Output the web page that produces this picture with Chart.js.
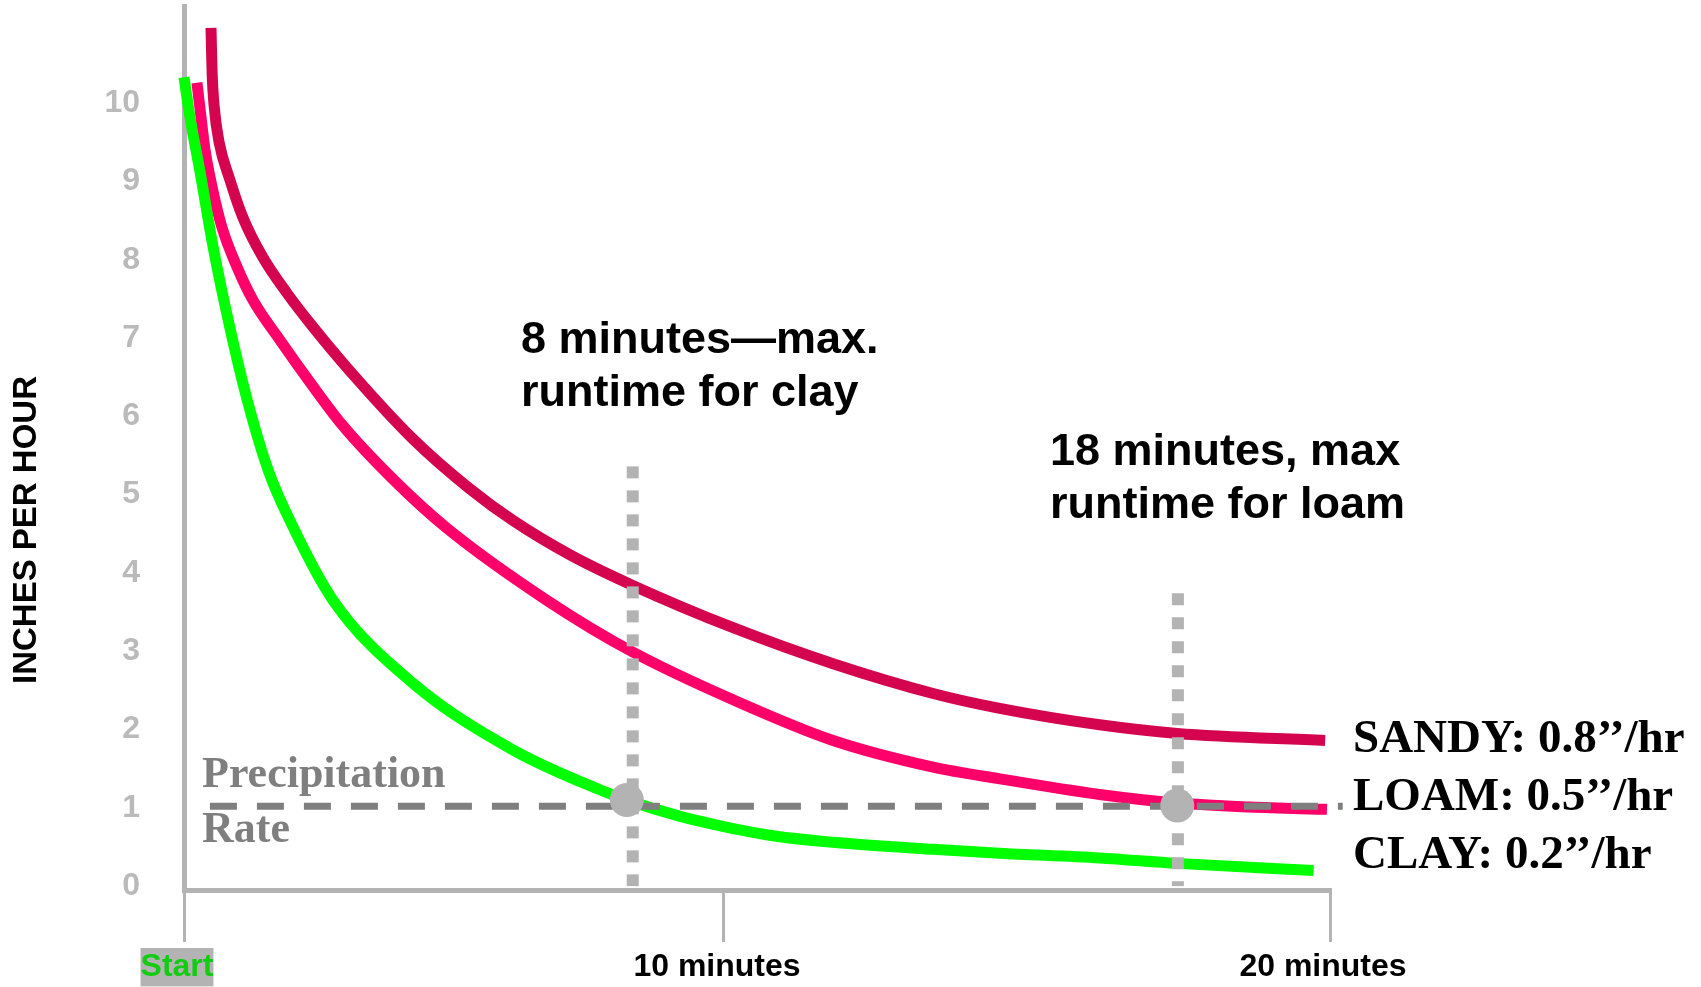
<!DOCTYPE html>
<html>
<head>
<meta charset="utf-8">
<title>Infiltration rate by soil type</title>
<script src="https://cdn.jsdelivr.net/npm/chart.js@4.4.0/dist/chart.umd.min.js"></script>
<style>
    html, body { margin: 0; padding: 0; background: #fff; }
    #wrap { width: 1701px; height: 987px; position: relative; }
</style>
</head>
<body>
<div id="wrap"><canvas id="chart"></canvas></div>
<script>
// minutes on x, inches per hour on y
const sandyMinutes = [0.50, 0.52, 0.56, 0.65, 0.85, 1.09, 1.46, 1.91, 2.39, 3.07, 4.24, 5.30, 6.09, 7.15, 8.31, 10.15, 11.80, 13.45, 14.55, 16.20, 17.48, 19.92];
const sandyRate    = [10.96, 10.40, 9.95, 9.50, 9.02, 8.54, 8.03, 7.57, 7.14, 6.58, 5.71, 5.07, 4.67, 4.23, 3.84, 3.30, 2.84, 2.46, 2.27, 2.06, 1.95, 1.86];

const loamMinutes = [0.24, 0.30, 0.39, 0.52, 0.70, 0.98, 1.28, 1.78, 2.37, 2.93, 3.91, 4.87, 6.72, 8.31, 10.15, 11.80, 13.45, 14.55, 16.20, 17.48, 18.68, 19.95];
const loamRate    = [10.26, 9.91, 9.40, 8.93, 8.42, 7.91, 7.48, 6.97, 6.40, 5.89, 5.17, 4.57, 3.65, 2.99, 2.38, 1.86, 1.52, 1.37, 1.17, 1.06, 1.01, 0.98];

const clayMinutes = [0.00, 0.11, 0.30, 0.54, 0.85, 1.17, 1.56, 1.96, 2.76, 4.24, 6.09, 7.70, 8.20, 9.19, 9.87, 10.84, 11.80, 13.45, 14.55, 16.20, 17.48, 19.73];
const clayRate    = [10.33, 9.82, 9.11, 8.16, 7.13, 6.21, 5.31, 4.67, 3.65, 2.59, 1.74, 1.23, 1.10, 0.89, 0.78, 0.64, 0.56, 0.47, 0.42, 0.36, 0.29, 0.20];

const precipMinutes = [0.48, 20.21];
const precipRate = [1.02, 1.02];

const clayLimitMinutes = [8.31, 8.31];
const clayLimitRate = [5.36, 0];
const loamLimitMinutes = [17.49, 17.49];
const loamLimitRate = [3.74, 0];

const crossMinutes = [8.20, 17.48];
const crossRate = [1.10, 1.03];

const xTickValues = [0, 10, 20];
const xTickLabels = ['Start', '10 minutes', '20 minutes'];
const yTickValues = [0, 1, 2, 3, 4, 5, 6, 7, 8, 9, 10];

const soilLabels = ['SANDY: 0.8\u2019\u2019/hr', 'LOAM: 0.5\u2019\u2019/hr', 'CLAY: 0.2\u2019\u2019/hr'];
const clayNote = ['8 minutes\u2014max.', 'runtime for clay'];
const loamNote = ['18 minutes, max', 'runtime for loam'];
const precipNote = ['Precipitation', 'Rate'];
const yTitle = 'INCHES PER HOUR';

const SANS = '"Liberation Sans", Arial, sans-serif';
const SERIF = '"Liberation Serif", "Times New Roman", serif';

function toPoints(xs, ys) {
    return xs.map((x, i) => ({ x: x, y: ys[i] }));
}

// the drawn time axis is not even: 0-10 min is shorter than 10-20 min
const breakMinutes = [0, 10, 20];
const breakFrac = [0, 0.4712, 1];

function minutesToFrac(v) {
    let i = 0;
    while (i < breakMinutes.length - 2 && v > breakMinutes[i + 1]) i++;
    const t = (v - breakMinutes[i]) / (breakMinutes[i + 1] - breakMinutes[i]);
    return breakFrac[i] + t * (breakFrac[i + 1] - breakFrac[i]);
}

function fracToMinutes(f) {
    let i = 0;
    while (i < breakFrac.length - 2 && f > breakFrac[i + 1]) i++;
    const t = (f - breakFrac[i]) / (breakFrac[i + 1] - breakFrac[i]);
    return breakMinutes[i] + t * (breakMinutes[i + 1] - breakMinutes[i]);
}

class PiecewiseScale extends Chart.LinearScale {
    getPixelForValue(value) {
        if (value === null || value === undefined) return NaN;
        return this.getPixelForDecimal(minutesToFrac(value));
    }
    getValueForPixel(pixel) {
        return fracToMinutes(this.getDecimalForPixel(pixel));
    }
}
PiecewiseScale.id = 'piecewise';
PiecewiseScale.defaults = Chart.LinearScale.defaults;
Chart.register(PiecewiseScale);

const notes = {
    id: 'notes',
    afterDraw(chart) {
        const ctx = chart.ctx;
        ctx.save();
        ctx.textBaseline = 'alphabetic';
        ctx.textAlign = 'left';

        ctx.fillStyle = '#000';
        ctx.font = 'bold 45px ' + SANS;
        ctx.fillText(clayNote[0], 521, 353);
        ctx.fillText(clayNote[1], 521, 406);
        ctx.fillText(loamNote[0], 1050, 465);
        ctx.fillText(loamNote[1], 1050, 518);

        ctx.font = 'bold 47px ' + SERIF;
        ctx.fillText(soilLabels[0], 1353, 752);
        ctx.fillText(soilLabels[1], 1353, 810);
        ctx.fillText(soilLabels[2], 1353, 868);

        ctx.fillStyle = '#7f7f7f';
        ctx.font = 'bold 44px ' + SERIF;
        ctx.fillText(precipNote[0], 202, 787);
        ctx.fillText(precipNote[1], 202, 842);

        // axis title
        ctx.translate(27, 530);
        ctx.rotate(-Math.PI / 2);
        ctx.textAlign = 'center';
        ctx.textBaseline = 'middle';
        ctx.fillStyle = '#000';
        ctx.font = 'bold 33px ' + SANS;
        ctx.fillText(yTitle, 0, 0);
        ctx.restore();
    }
};

const curve = (data, color, order) => ({
    data: data,
    borderColor: color,
    borderWidth: 11,
    pointRadius: 0,
    cubicInterpolationMode: 'monotone',
    fill: false,
    clip: false,
    order: order
});

const guide = (data, order) => ({
    data: data,
    borderColor: '#b3b3b3',
    borderWidth: 12,
    borderDash: [12, 12],
    pointRadius: 0,
    fill: false,
    clip: false,
    order: order
});

new Chart(document.getElementById('chart'), {
    type: 'line',
    data: {
        datasets: [
            curve(toPoints(sandyMinutes, sandyRate), '#d4054e', 5),
            curve(toPoints(loamMinutes, loamRate), '#ff006a', 4),
            curve(toPoints(clayMinutes, clayRate), '#00ff00', 3),
            guide(toPoints(clayLimitMinutes, clayLimitRate), 2),
            guide(toPoints(loamLimitMinutes, loamLimitRate), 2),
            {
                data: toPoints(precipMinutes, precipRate),
                borderColor: '#7f7f7f',
                borderWidth: 7,
                borderDash: [27, 20],
                pointRadius: 0,
                fill: false,
                clip: false,
                order: 1
            },
            {
                data: toPoints(crossMinutes, crossRate),
                showLine: false,
                pointRadius: 17,
                pointBackgroundColor: '#b3b3b3',
                pointBorderWidth: 0,
                clip: false,
                order: 0
            }
        ]
    },
    options: {
        responsive: true,
        maintainAspectRatio: false,
        animation: false,
        layout: { autoPadding: false, padding: { top: 6, right: 371, bottom: 0, left: 0 } },
        plugins: {
            legend: { display: false },
            tooltip: { enabled: false }
        },
        scales: {
            x: {
                type: 'piecewise',
                min: 0,
                max: 20,
                afterBuildTicks: s => { s.ticks = xTickValues.map(v => ({ value: v })); },
                afterFit: s => { s.height = 97; },
                grid: { drawOnChartArea: false, drawTicks: true, tickLength: 52, lineWidth: 3, color: '#b3b3b3' },
                border: { display: true, width: 5, color: '#b3b3b3' },
                ticks: {
                    autoSkip: false,
                    maxRotation: 0,
                    padding: 6,
                    labelOffset: -7,
                    font: { family: SANS, size: 32, weight: 'bold' },
                    color: c => c.index === 0 ? '#11cc11' : '#000',
                    showLabelBackdrop: c => c.index === 0,
                    backdropColor: '#b3b3b3',
                    backdropPadding: 0,
                    callback: (v, i) => xTickLabels[i]
                }
            },
            y: {
                min: -0.05,
                max: 11.24,
                afterBuildTicks: s => { s.ticks = yTickValues.map(v => ({ value: v })); },
                afterFit: s => {
                    s.width = 184;
                    s.paddingTop = 0;
                    s.paddingBottom = 0;
                },
                grid: { display: false, drawTicks: false },
                border: { display: true, width: 5, color: '#b3b3b3' },
                ticks: {
                    padding: 44,
                    font: { family: SANS, size: 32, weight: 'bold' },
                    color: '#bababa'
                }
            }
        }
    },
    plugins: [notes]
});
</script>
</body>
</html>
